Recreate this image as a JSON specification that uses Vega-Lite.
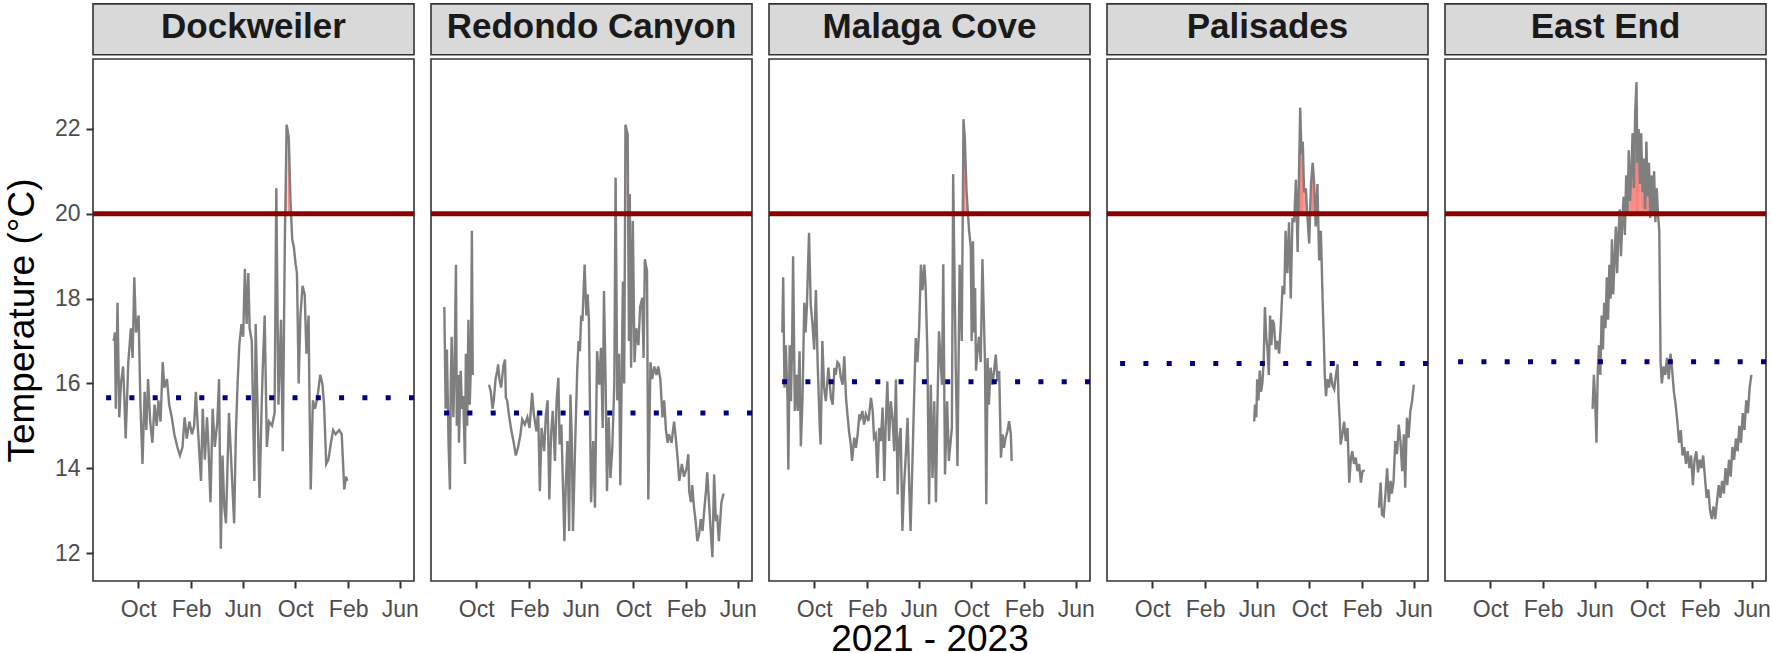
{
  "$schema": "https://vega.github.io/schema/vega-lite/v6.json",
  "padding": {"left": 3, "top": 2, "right": 5, "bottom": 0},
  "background": "white",
  "datasets": {
    "temps": [
      {"s":"Dockweiler","d":"2021-08-05","t":17.0},{"s":"Dockweiler","d":"2021-08-08","t":17.2},{"s":"Dockweiler","d":"2021-08-10","t":15.4},{"s":"Dockweiler","d":"2021-08-14","t":17.9},{"s":"Dockweiler","d":"2021-08-18","t":15.2},{"s":"Dockweiler","d":"2021-08-22","t":16.0},{"s":"Dockweiler","d":"2021-08-27","t":16.4},{"s":"Dockweiler","d":"2021-08-30","t":15.6},{"s":"Dockweiler","d":"2021-09-02","t":14.7},{"s":"Dockweiler","d":"2021-09-08","t":16.5},{"s":"Dockweiler","d":"2021-09-14","t":17.3},{"s":"Dockweiler","d":"2021-09-18","t":16.6},{"s":"Dockweiler","d":"2021-09-22","t":18.5},{"s":"Dockweiler","d":"2021-09-26","t":17.2},{"s":"Dockweiler","d":"2021-10-02","t":17.6},{"s":"Dockweiler","d":"2021-10-06","t":15.6},{"s":"Dockweiler","d":"2021-10-11","t":14.1},{"s":"Dockweiler","d":"2021-10-16","t":15.8},{"s":"Dockweiler","d":"2021-10-20","t":14.9},{"s":"Dockweiler","d":"2021-10-24","t":16.1},{"s":"Dockweiler","d":"2021-10-29","t":15.1},{"s":"Dockweiler","d":"2021-11-03","t":14.6},{"s":"Dockweiler","d":"2021-11-08","t":15.5},{"s":"Dockweiler","d":"2021-11-13","t":15.0},{"s":"Dockweiler","d":"2021-11-17","t":15.6},{"s":"Dockweiler","d":"2021-11-22","t":15.1},{"s":"Dockweiler","d":"2021-11-27","t":16.5},{"s":"Dockweiler","d":"2021-12-01","t":15.9},{"s":"Dockweiler","d":"2021-12-07","t":16.1},{"s":"Dockweiler","d":"2021-12-12","t":15.5},{"s":"Dockweiler","d":"2021-12-18","t":15.2},{"s":"Dockweiler","d":"2021-12-24","t":14.8},{"s":"Dockweiler","d":"2021-12-31","t":14.5},{"s":"Dockweiler","d":"2022-01-06","t":14.3},{"s":"Dockweiler","d":"2022-01-12","t":14.5},{"s":"Dockweiler","d":"2022-01-17","t":15.2},{"s":"Dockweiler","d":"2022-01-22","t":14.7},{"s":"Dockweiler","d":"2022-01-28","t":15.1},{"s":"Dockweiler","d":"2022-02-03","t":14.8},{"s":"Dockweiler","d":"2022-02-08","t":15.0},{"s":"Dockweiler","d":"2022-02-12","t":15.8},{"s":"Dockweiler","d":"2022-02-17","t":14.9},{"s":"Dockweiler","d":"2022-02-24","t":13.7},{"s":"Dockweiler","d":"2022-02-28","t":15.4},{"s":"Dockweiler","d":"2022-03-05","t":14.2},{"s":"Dockweiler","d":"2022-03-10","t":15.2},{"s":"Dockweiler","d":"2022-03-13","t":14.6},{"s":"Dockweiler","d":"2022-03-18","t":13.2},{"s":"Dockweiler","d":"2022-03-23","t":15.4},{"s":"Dockweiler","d":"2022-03-28","t":14.5},{"s":"Dockweiler","d":"2022-04-03","t":15.1},{"s":"Dockweiler","d":"2022-04-07","t":16.1},{"s":"Dockweiler","d":"2022-04-11","t":12.1},{"s":"Dockweiler","d":"2022-04-15","t":14.3},{"s":"Dockweiler","d":"2022-04-19","t":13.1},{"s":"Dockweiler","d":"2022-04-23","t":12.7},{"s":"Dockweiler","d":"2022-04-27","t":14.2},{"s":"Dockweiler","d":"2022-04-30","t":15.3},{"s":"Dockweiler","d":"2022-05-06","t":14.0},{"s":"Dockweiler","d":"2022-05-12","t":12.7},{"s":"Dockweiler","d":"2022-05-16","t":14.8},{"s":"Dockweiler","d":"2022-05-20","t":16.0},{"s":"Dockweiler","d":"2022-05-24","t":16.9},{"s":"Dockweiler","d":"2022-05-29","t":17.4},{"s":"Dockweiler","d":"2022-06-02","t":17.1},{"s":"Dockweiler","d":"2022-06-06","t":18.7},{"s":"Dockweiler","d":"2022-06-10","t":17.4},{"s":"Dockweiler","d":"2022-06-14","t":18.6},{"s":"Dockweiler","d":"2022-06-17","t":17.3},{"s":"Dockweiler","d":"2022-06-22","t":17.0},{"s":"Dockweiler","d":"2022-06-28","t":13.7},{"s":"Dockweiler","d":"2022-07-01","t":17.4},{"s":"Dockweiler","d":"2022-07-05","t":15.6},{"s":"Dockweiler","d":"2022-07-10","t":13.3},{"s":"Dockweiler","d":"2022-07-15","t":15.5},{"s":"Dockweiler","d":"2022-07-18","t":16.5},{"s":"Dockweiler","d":"2022-07-22","t":17.6},{"s":"Dockweiler","d":"2022-07-27","t":14.5},{"s":"Dockweiler","d":"2022-08-01","t":15.1},{"s":"Dockweiler","d":"2022-08-08","t":15.0},{"s":"Dockweiler","d":"2022-08-14","t":15.3},{"s":"Dockweiler","d":"2022-08-18","t":20.6},{"s":"Dockweiler","d":"2022-08-23","t":15.5},{"s":"Dockweiler","d":"2022-08-29","t":17.5},{"s":"Dockweiler","d":"2022-09-02","t":14.4},{"s":"Dockweiler","d":"2022-09-07","t":19.5},{"s":"Dockweiler","d":"2022-09-11","t":22.1},{"s":"Dockweiler","d":"2022-09-16","t":21.8},{"s":"Dockweiler","d":"2022-09-20","t":20.3},{"s":"Dockweiler","d":"2022-09-24","t":19.4},{"s":"Dockweiler","d":"2022-09-28","t":19.2},{"s":"Dockweiler","d":"2022-10-02","t":18.8},{"s":"Dockweiler","d":"2022-10-05","t":18.6},{"s":"Dockweiler","d":"2022-10-09","t":16.0},{"s":"Dockweiler","d":"2022-10-13","t":17.6},{"s":"Dockweiler","d":"2022-10-18","t":18.3},{"s":"Dockweiler","d":"2022-10-23","t":18.1},{"s":"Dockweiler","d":"2022-10-27","t":16.7},{"s":"Dockweiler","d":"2022-11-01","t":17.6},{"s":"Dockweiler","d":"2022-11-03","t":15.7},{"s":"Dockweiler","d":"2022-11-06","t":13.5},{"s":"Dockweiler","d":"2022-11-11","t":15.6},{"s":"Dockweiler","d":"2022-11-16","t":15.4},{"s":"Dockweiler","d":"2022-11-22","t":15.7},{"s":"Dockweiler","d":"2022-11-28","t":16.2},{"s":"Dockweiler","d":"2022-12-03","t":16.0},{"s":"Dockweiler","d":"2022-12-07","t":15.5},{"s":"Dockweiler","d":"2022-12-12","t":14.1},{"s":"Dockweiler","d":"2022-12-17","t":14.2},{"s":"Dockweiler","d":"2022-12-23","t":14.6},{"s":"Dockweiler","d":"2022-12-28","t":14.9},{"s":"Dockweiler","d":"2023-01-03","t":14.8},{"s":"Dockweiler","d":"2023-01-11","t":14.9},{"s":"Dockweiler","d":"2023-01-17","t":14.8},{"s":"Dockweiler","d":"2023-01-23","t":13.5},{"s":"Dockweiler","d":"2023-01-27","t":13.8},{"s":"Dockweiler","d":"2023-01-30","t":13.7},
      {"s":"Redondo Canyon","d":"2021-07-19","t":17.8},{"s":"Redondo Canyon","d":"2021-07-22","t":15.4},{"s":"Redondo Canyon","d":"2021-07-25","t":16.8},{"s":"Redondo Canyon","d":"2021-07-29","t":14.5},{"s":"Redondo Canyon","d":"2021-08-01","t":13.5},{"s":"Redondo Canyon","d":"2021-08-03","t":16.0},{"s":"Redondo Canyon","d":"2021-08-05","t":17.1},{"s":"Redondo Canyon","d":"2021-08-09","t":15.2},{"s":"Redondo Canyon","d":"2021-08-12","t":16.5},{"s":"Redondo Canyon","d":"2021-08-15","t":18.8},{"s":"Redondo Canyon","d":"2021-08-17","t":15.0},{"s":"Redondo Canyon","d":"2021-08-20","t":16.2},{"s":"Redondo Canyon","d":"2021-08-22","t":14.6},{"s":"Redondo Canyon","d":"2021-08-26","t":16.3},{"s":"Redondo Canyon","d":"2021-08-29","t":15.4},{"s":"Redondo Canyon","d":"2021-09-01","t":15.7},{"s":"Redondo Canyon","d":"2021-09-05","t":14.1},{"s":"Redondo Canyon","d":"2021-09-07","t":16.7},{"s":"Redondo Canyon","d":"2021-09-10","t":15.0},{"s":"Redondo Canyon","d":"2021-09-13","t":17.5},{"s":"Redondo Canyon","d":"2021-09-16","t":15.5},{"s":"Redondo Canyon","d":"2021-09-19","t":16.5},{"s":"Redondo Canyon","d":"2021-09-21","t":19.6},{"s":"Redondo Canyon","d":"2021-09-23","t":16.2},{"s":"Redondo Canyon","d":"2021-10-10","t":null},
      {"s":"Redondo Canyon","d":"2021-10-31","t":15.97},{"s":"Redondo Canyon","d":"2021-11-04","t":15.8},{"s":"Redondo Canyon","d":"2021-11-08","t":15.4},{"s":"Redondo Canyon","d":"2021-11-11","t":15.6},{"s":"Redondo Canyon","d":"2021-11-15","t":16.1},{"s":"Redondo Canyon","d":"2021-11-19","t":16.3},{"s":"Redondo Canyon","d":"2021-11-21","t":16.45},{"s":"Redondo Canyon","d":"2021-11-24","t":16.1},{"s":"Redondo Canyon","d":"2021-11-28","t":15.9},{"s":"Redondo Canyon","d":"2021-12-03","t":16.4},{"s":"Redondo Canyon","d":"2021-12-07","t":16.56},{"s":"Redondo Canyon","d":"2021-12-09","t":15.66},{"s":"Redondo Canyon","d":"2021-12-12","t":15.6},{"s":"Redondo Canyon","d":"2021-12-16","t":15.27},{"s":"Redondo Canyon","d":"2021-12-22","t":14.87},{"s":"Redondo Canyon","d":"2021-12-28","t":14.56},{"s":"Redondo Canyon","d":"2022-01-01","t":14.3},{"s":"Redondo Canyon","d":"2022-01-06","t":14.48},{"s":"Redondo Canyon","d":"2022-01-12","t":14.8},{"s":"Redondo Canyon","d":"2022-01-16","t":15.15},{"s":"Redondo Canyon","d":"2022-01-22","t":15.03},{"s":"Redondo Canyon","d":"2022-01-28","t":15.2},{"s":"Redondo Canyon","d":"2022-02-02","t":14.95},{"s":"Redondo Canyon","d":"2022-02-08","t":15.78},{"s":"Redondo Canyon","d":"2022-02-12","t":15.27},{"s":"Redondo Canyon","d":"2022-02-18","t":14.87},{"s":"Redondo Canyon","d":"2022-02-22","t":15.35},{"s":"Redondo Canyon","d":"2022-02-26","t":13.46},{"s":"Redondo Canyon","d":"2022-03-02","t":14.95},{"s":"Redondo Canyon","d":"2022-03-08","t":14.4},{"s":"Redondo Canyon","d":"2022-03-12","t":15.27},{"s":"Redondo Canyon","d":"2022-03-16","t":15.6},{"s":"Redondo Canyon","d":"2022-03-20","t":13.26},{"s":"Redondo Canyon","d":"2022-03-24","t":14.8},{"s":"Redondo Canyon","d":"2022-03-28","t":15.35},{"s":"Redondo Canyon","d":"2022-04-02","t":14.17},{"s":"Redondo Canyon","d":"2022-04-06","t":15.6},{"s":"Redondo Canyon","d":"2022-04-10","t":16.13},{"s":"Redondo Canyon","d":"2022-04-13","t":14.56},{"s":"Redondo Canyon","d":"2022-04-17","t":15.03},{"s":"Redondo Canyon","d":"2022-04-21","t":13.46},{"s":"Redondo Canyon","d":"2022-04-24","t":12.28},{"s":"Redondo Canyon","d":"2022-04-27","t":13.54},{"s":"Redondo Canyon","d":"2022-05-01","t":14.64},{"s":"Redondo Canyon","d":"2022-05-05","t":12.52},{"s":"Redondo Canyon","d":"2022-05-08","t":15.74},{"s":"Redondo Canyon","d":"2022-05-11","t":14.8},{"s":"Redondo Canyon","d":"2022-05-14","t":12.52},{"s":"Redondo Canyon","d":"2022-05-19","t":14.56},{"s":"Redondo Canyon","d":"2022-05-24","t":16.37},{"s":"Redondo Canyon","d":"2022-05-27","t":17.0},{"s":"Redondo Canyon","d":"2022-05-30","t":16.76},{"s":"Redondo Canyon","d":"2022-06-02","t":17.6},{"s":"Redondo Canyon","d":"2022-06-05","t":17.47},{"s":"Redondo Canyon","d":"2022-06-10","t":18.8},{"s":"Redondo Canyon","d":"2022-06-14","t":17.6},{"s":"Redondo Canyon","d":"2022-06-17","t":18.1},{"s":"Redondo Canyon","d":"2022-06-20","t":17.5},{"s":"Redondo Canyon","d":"2022-06-25","t":13.2},{"s":"Redondo Canyon","d":"2022-06-30","t":14.64},{"s":"Redondo Canyon","d":"2022-07-04","t":13.07},{"s":"Redondo Canyon","d":"2022-07-09","t":16.76},{"s":"Redondo Canyon","d":"2022-07-14","t":15.97},{"s":"Redondo Canyon","d":"2022-07-18","t":16.84},{"s":"Redondo Canyon","d":"2022-07-22","t":14.95},{"s":"Redondo Canyon","d":"2022-07-25","t":18.18},{"s":"Redondo Canyon","d":"2022-07-29","t":15.9},{"s":"Redondo Canyon","d":"2022-08-01","t":13.46},{"s":"Redondo Canyon","d":"2022-08-05","t":15.2},{"s":"Redondo Canyon","d":"2022-08-09","t":13.77},{"s":"Redondo Canyon","d":"2022-08-13","t":14.4},{"s":"Redondo Canyon","d":"2022-08-18","t":15.97},{"s":"Redondo Canyon","d":"2022-08-21","t":20.85},{"s":"Redondo Canyon","d":"2022-08-25","t":15.6},{"s":"Redondo Canyon","d":"2022-08-29","t":16.7},{"s":"Redondo Canyon","d":"2022-09-01","t":13.6},{"s":"Redondo Canyon","d":"2022-09-07","t":18.4},{"s":"Redondo Canyon","d":"2022-09-10","t":16.0},{"s":"Redondo Canyon","d":"2022-09-13","t":22.1},{"s":"Redondo Canyon","d":"2022-09-18","t":21.87},{"s":"Redondo Canyon","d":"2022-09-21","t":17.0},{"s":"Redondo Canyon","d":"2022-09-23","t":20.46},{"s":"Redondo Canyon","d":"2022-09-26","t":16.37},{"s":"Redondo Canyon","d":"2022-09-30","t":19.83},{"s":"Redondo Canyon","d":"2022-10-04","t":16.5},{"s":"Redondo Canyon","d":"2022-10-08","t":17.3},{"s":"Redondo Canyon","d":"2022-10-13","t":16.9},{"s":"Redondo Canyon","d":"2022-10-17","t":17.8},{"s":"Redondo Canyon","d":"2022-10-22","t":18.02},{"s":"Redondo Canyon","d":"2022-10-25","t":16.6},{"s":"Redondo Canyon","d":"2022-10-28","t":18.93},{"s":"Redondo Canyon","d":"2022-11-02","t":18.65},{"s":"Redondo Canyon","d":"2022-11-05","t":13.26},{"s":"Redondo Canyon","d":"2022-11-10","t":16.5},{"s":"Redondo Canyon","d":"2022-11-14","t":16.1},{"s":"Redondo Canyon","d":"2022-11-19","t":16.4},{"s":"Redondo Canyon","d":"2022-11-24","t":16.2},{"s":"Redondo Canyon","d":"2022-11-28","t":16.4},{"s":"Redondo Canyon","d":"2022-12-03","t":16.1},{"s":"Redondo Canyon","d":"2022-12-08","t":15.2},{"s":"Redondo Canyon","d":"2022-12-12","t":15.6},{"s":"Redondo Canyon","d":"2022-12-16","t":14.9},{"s":"Redondo Canyon","d":"2022-12-20","t":14.6},{"s":"Redondo Canyon","d":"2022-12-23","t":14.8},{"s":"Redondo Canyon","d":"2022-12-29","t":14.6},{"s":"Redondo Canyon","d":"2023-01-04","t":15.1},{"s":"Redondo Canyon","d":"2023-01-08","t":14.7},{"s":"Redondo Canyon","d":"2023-01-12","t":14.25},{"s":"Redondo Canyon","d":"2023-01-16","t":13.7},{"s":"Redondo Canyon","d":"2023-01-22","t":14.1},{"s":"Redondo Canyon","d":"2023-01-27","t":13.8},{"s":"Redondo Canyon","d":"2023-02-02","t":14.0},{"s":"Redondo Canyon","d":"2023-02-06","t":14.33},{"s":"Redondo Canyon","d":"2023-02-08","t":13.46},{"s":"Redondo Canyon","d":"2023-02-12","t":13.2},{"s":"Redondo Canyon","d":"2023-02-15","t":13.6},{"s":"Redondo Canyon","d":"2023-02-19","t":13.1},{"s":"Redondo Canyon","d":"2023-02-23","t":12.75},{"s":"Redondo Canyon","d":"2023-02-27","t":12.28},{"s":"Redondo Canyon","d":"2023-03-03","t":12.44},{"s":"Redondo Canyon","d":"2023-03-07","t":12.8},{"s":"Redondo Canyon","d":"2023-03-11","t":12.52},{"s":"Redondo Canyon","d":"2023-03-15","t":13.0},{"s":"Redondo Canyon","d":"2023-03-19","t":13.46},{"s":"Redondo Canyon","d":"2023-03-22","t":13.9},{"s":"Redondo Canyon","d":"2023-03-26","t":13.2},{"s":"Redondo Canyon","d":"2023-03-30","t":12.52},{"s":"Redondo Canyon","d":"2023-04-03","t":11.9},{"s":"Redondo Canyon","d":"2023-04-07","t":13.85},{"s":"Redondo Canyon","d":"2023-04-11","t":12.75},{"s":"Redondo Canyon","d":"2023-04-14","t":12.9},{"s":"Redondo Canyon","d":"2023-04-18","t":12.28},{"s":"Redondo Canyon","d":"2023-04-24","t":13.2},{"s":"Redondo Canyon","d":"2023-04-29","t":13.4},
      {"s":"Malaga Cove","d":"2021-07-19","t":17.2},{"s":"Malaga Cove","d":"2021-07-21","t":18.5},{"s":"Malaga Cove","d":"2021-07-24","t":15.9},{"s":"Malaga Cove","d":"2021-07-27","t":16.9},{"s":"Malaga Cove","d":"2021-07-31","t":15.66},{"s":"Malaga Cove","d":"2021-08-02","t":13.97},{"s":"Malaga Cove","d":"2021-08-05","t":16.9},{"s":"Malaga Cove","d":"2021-08-08","t":15.58},{"s":"Malaga Cove","d":"2021-08-11","t":17.15},{"s":"Malaga Cove","d":"2021-08-13","t":19.0},{"s":"Malaga Cove","d":"2021-08-17","t":15.35},{"s":"Malaga Cove","d":"2021-08-21","t":16.2},{"s":"Malaga Cove","d":"2021-08-24","t":15.35},{"s":"Malaga Cove","d":"2021-08-28","t":16.76},{"s":"Malaga Cove","d":"2021-08-31","t":14.52},{"s":"Malaga Cove","d":"2021-09-04","t":15.7},{"s":"Malaga Cove","d":"2021-09-08","t":17.9},{"s":"Malaga Cove","d":"2021-09-11","t":17.2},{"s":"Malaga Cove","d":"2021-09-14","t":17.8},{"s":"Malaga Cove","d":"2021-09-19","t":19.55},{"s":"Malaga Cove","d":"2021-09-23","t":17.86},{"s":"Malaga Cove","d":"2021-09-27","t":17.4},{"s":"Malaga Cove","d":"2021-10-01","t":16.8},{"s":"Malaga Cove","d":"2021-10-05","t":18.2},{"s":"Malaga Cove","d":"2021-10-09","t":16.5},{"s":"Malaga Cove","d":"2021-10-14","t":14.95},{"s":"Malaga Cove","d":"2021-10-16","t":14.56},{"s":"Malaga Cove","d":"2021-10-20","t":17.0},{"s":"Malaga Cove","d":"2021-10-24","t":15.9},{"s":"Malaga Cove","d":"2021-10-28","t":15.58},{"s":"Malaga Cove","d":"2021-11-03","t":16.37},{"s":"Malaga Cove","d":"2021-11-09","t":15.66},{"s":"Malaga Cove","d":"2021-11-13","t":15.5},{"s":"Malaga Cove","d":"2021-11-17","t":16.37},{"s":"Malaga Cove","d":"2021-11-20","t":16.2},{"s":"Malaga Cove","d":"2021-11-24","t":16.5},{"s":"Malaga Cove","d":"2021-11-28","t":16.45},{"s":"Malaga Cove","d":"2021-12-02","t":16.13},{"s":"Malaga Cove","d":"2021-12-06","t":15.97},{"s":"Malaga Cove","d":"2021-12-10","t":16.64},{"s":"Malaga Cove","d":"2021-12-14","t":15.66},{"s":"Malaga Cove","d":"2021-12-18","t":15.19},{"s":"Malaga Cove","d":"2021-12-21","t":14.87},{"s":"Malaga Cove","d":"2021-12-25","t":14.56},{"s":"Malaga Cove","d":"2021-12-28","t":14.17},{"s":"Malaga Cove","d":"2022-01-02","t":14.72},{"s":"Malaga Cove","d":"2022-01-06","t":14.48},{"s":"Malaga Cove","d":"2022-01-10","t":14.8},{"s":"Malaga Cove","d":"2022-01-14","t":15.27},{"s":"Malaga Cove","d":"2022-01-17","t":15.19},{"s":"Malaga Cove","d":"2022-01-21","t":15.35},{"s":"Malaga Cove","d":"2022-01-25","t":15.03},{"s":"Malaga Cove","d":"2022-01-29","t":15.27},{"s":"Malaga Cove","d":"2022-02-04","t":15.11},{"s":"Malaga Cove","d":"2022-02-10","t":15.66},{"s":"Malaga Cove","d":"2022-02-14","t":15.35},{"s":"Malaga Cove","d":"2022-02-17","t":14.72},{"s":"Malaga Cove","d":"2022-02-21","t":14.8},{"s":"Malaga Cove","d":"2022-02-25","t":13.77},{"s":"Malaga Cove","d":"2022-03-01","t":14.95},{"s":"Malaga Cove","d":"2022-03-05","t":14.64},{"s":"Malaga Cove","d":"2022-03-09","t":15.43},{"s":"Malaga Cove","d":"2022-03-13","t":13.7},{"s":"Malaga Cove","d":"2022-03-16","t":14.95},{"s":"Malaga Cove","d":"2022-03-20","t":16.05},{"s":"Malaga Cove","d":"2022-03-24","t":14.64},{"s":"Malaga Cove","d":"2022-03-28","t":15.58},{"s":"Malaga Cove","d":"2022-04-01","t":15.19},{"s":"Malaga Cove","d":"2022-04-05","t":14.4},{"s":"Malaga Cove","d":"2022-04-09","t":16.09},{"s":"Malaga Cove","d":"2022-04-13","t":13.38},{"s":"Malaga Cove","d":"2022-04-16","t":14.64},{"s":"Malaga Cove","d":"2022-04-20","t":14.95},{"s":"Malaga Cove","d":"2022-04-24","t":12.52},{"s":"Malaga Cove","d":"2022-04-28","t":13.6},{"s":"Malaga Cove","d":"2022-05-02","t":14.33},{"s":"Malaga Cove","d":"2022-05-06","t":15.19},{"s":"Malaga Cove","d":"2022-05-10","t":13.54},{"s":"Malaga Cove","d":"2022-05-13","t":12.52},{"s":"Malaga Cove","d":"2022-05-17","t":14.0},{"s":"Malaga Cove","d":"2022-05-21","t":15.58},{"s":"Malaga Cove","d":"2022-05-25","t":17.07},{"s":"Malaga Cove","d":"2022-05-29","t":16.5},{"s":"Malaga Cove","d":"2022-06-02","t":17.3},{"s":"Malaga Cove","d":"2022-06-06","t":18.8},{"s":"Malaga Cove","d":"2022-06-10","t":18.2},{"s":"Malaga Cove","d":"2022-06-14","t":18.8},{"s":"Malaga Cove","d":"2022-06-17","t":18.3},{"s":"Malaga Cove","d":"2022-06-21","t":16.76},{"s":"Malaga Cove","d":"2022-06-25","t":13.15},{"s":"Malaga Cove","d":"2022-06-29","t":15.97},{"s":"Malaga Cove","d":"2022-07-03","t":13.77},{"s":"Malaga Cove","d":"2022-07-07","t":15.58},{"s":"Malaga Cove","d":"2022-07-11","t":13.2},{"s":"Malaga Cove","d":"2022-07-14","t":15.19},{"s":"Malaga Cove","d":"2022-07-18","t":17.23},{"s":"Malaga Cove","d":"2022-07-25","t":15.97},{"s":"Malaga Cove","d":"2022-07-28","t":18.81},{"s":"Malaga Cove","d":"2022-08-01","t":13.85},{"s":"Malaga Cove","d":"2022-08-06","t":15.58},{"s":"Malaga Cove","d":"2022-08-10","t":14.17},{"s":"Malaga Cove","d":"2022-08-17","t":14.95},{"s":"Malaga Cove","d":"2022-08-20","t":20.93},{"s":"Malaga Cove","d":"2022-08-26","t":16.37},{"s":"Malaga Cove","d":"2022-08-30","t":14.05},{"s":"Malaga Cove","d":"2022-09-04","t":18.8},{"s":"Malaga Cove","d":"2022-09-09","t":17.0},{"s":"Malaga Cove","d":"2022-09-13","t":22.23},{"s":"Malaga Cove","d":"2022-09-16","t":21.8},{"s":"Malaga Cove","d":"2022-09-20","t":20.54},{"s":"Malaga Cove","d":"2022-09-26","t":19.6},{"s":"Malaga Cove","d":"2022-09-30","t":19.2},{"s":"Malaga Cove","d":"2022-10-02","t":17.0},{"s":"Malaga Cove","d":"2022-10-05","t":19.35},{"s":"Malaga Cove","d":"2022-10-08","t":17.2},{"s":"Malaga Cove","d":"2022-10-10","t":18.25},{"s":"Malaga Cove","d":"2022-10-12","t":16.3},{"s":"Malaga Cove","d":"2022-10-15","t":16.7},{"s":"Malaga Cove","d":"2022-10-19","t":17.1},{"s":"Malaga Cove","d":"2022-10-23","t":16.5},{"s":"Malaga Cove","d":"2022-10-27","t":18.93},{"s":"Malaga Cove","d":"2022-11-02","t":16.45},{"s":"Malaga Cove","d":"2022-11-05","t":13.15},{"s":"Malaga Cove","d":"2022-11-08","t":16.6},{"s":"Malaga Cove","d":"2022-11-11","t":15.5},{"s":"Malaga Cove","d":"2022-11-15","t":16.37},{"s":"Malaga Cove","d":"2022-11-19","t":15.97},{"s":"Malaga Cove","d":"2022-11-23","t":16.29},{"s":"Malaga Cove","d":"2022-11-27","t":16.68},{"s":"Malaga Cove","d":"2022-12-01","t":16.05},{"s":"Malaga Cove","d":"2022-12-05","t":16.29},{"s":"Malaga Cove","d":"2022-12-09","t":14.25},{"s":"Malaga Cove","d":"2022-12-13","t":14.8},{"s":"Malaga Cove","d":"2022-12-16","t":14.48},{"s":"Malaga Cove","d":"2022-12-20","t":14.72},{"s":"Malaga Cove","d":"2022-12-24","t":14.87},{"s":"Malaga Cove","d":"2022-12-28","t":15.11},{"s":"Malaga Cove","d":"2023-01-01","t":14.8},{"s":"Malaga Cove","d":"2023-01-03","t":14.17},
      {"s":"Palisades","d":"2022-05-26","t":15.1},{"s":"Palisades","d":"2022-05-28","t":15.5},{"s":"Palisades","d":"2022-05-31","t":15.2},{"s":"Palisades","d":"2022-06-02","t":16.1},{"s":"Palisades","d":"2022-06-05","t":15.6},{"s":"Palisades","d":"2022-06-08","t":16.3},{"s":"Palisades","d":"2022-06-11","t":15.8},{"s":"Palisades","d":"2022-06-14","t":16.0},{"s":"Palisades","d":"2022-06-17","t":16.5},{"s":"Palisades","d":"2022-06-20","t":17.8},{"s":"Palisades","d":"2022-06-23","t":17.1},{"s":"Palisades","d":"2022-06-26","t":16.8},{"s":"Palisades","d":"2022-06-29","t":16.2},{"s":"Palisades","d":"2022-07-02","t":17.6},{"s":"Palisades","d":"2022-07-05","t":16.9},{"s":"Palisades","d":"2022-07-08","t":17.5},{"s":"Palisades","d":"2022-07-11","t":17.4},{"s":"Palisades","d":"2022-07-15","t":16.8},{"s":"Palisades","d":"2022-07-19","t":17.0},{"s":"Palisades","d":"2022-07-23","t":16.7},{"s":"Palisades","d":"2022-07-27","t":17.4},{"s":"Palisades","d":"2022-07-31","t":18.3},{"s":"Palisades","d":"2022-08-04","t":18.1},{"s":"Palisades","d":"2022-08-07","t":19.6},{"s":"Palisades","d":"2022-08-11","t":18.6},{"s":"Palisades","d":"2022-08-15","t":19.8},{"s":"Palisades","d":"2022-08-19","t":18.0},{"s":"Palisades","d":"2022-08-23","t":19.9},{"s":"Palisades","d":"2022-08-27","t":19.8},{"s":"Palisades","d":"2022-08-31","t":20.8},{"s":"Palisades","d":"2022-09-04","t":19.1},{"s":"Palisades","d":"2022-09-08","t":21.4},{"s":"Palisades","d":"2022-09-10","t":22.5},{"s":"Palisades","d":"2022-09-13","t":21.4},{"s":"Palisades","d":"2022-09-16","t":21.7},{"s":"Palisades","d":"2022-09-19","t":20.5},{"s":"Palisades","d":"2022-09-23","t":20.6},{"s":"Palisades","d":"2022-09-27","t":19.9},{"s":"Palisades","d":"2022-10-01","t":19.3},{"s":"Palisades","d":"2022-10-05","t":20.7},{"s":"Palisades","d":"2022-10-09","t":21.2},{"s":"Palisades","d":"2022-10-12","t":20.8},{"s":"Palisades","d":"2022-10-16","t":19.7},{"s":"Palisades","d":"2022-10-20","t":20.7},{"s":"Palisades","d":"2022-10-24","t":18.9},{"s":"Palisades","d":"2022-10-28","t":19.6},{"s":"Palisades","d":"2022-11-01","t":18.0},{"s":"Palisades","d":"2022-11-04","t":17.0},{"s":"Palisades","d":"2022-11-06","t":16.2},{"s":"Palisades","d":"2022-11-09","t":15.7},{"s":"Palisades","d":"2022-11-12","t":16.1},{"s":"Palisades","d":"2022-11-16","t":15.9},{"s":"Palisades","d":"2022-11-20","t":16.25},{"s":"Palisades","d":"2022-11-24","t":15.95},{"s":"Palisades","d":"2022-11-28","t":15.86},{"s":"Palisades","d":"2022-12-02","t":16.2},{"s":"Palisades","d":"2022-12-06","t":16.45},{"s":"Palisades","d":"2022-12-08","t":15.66},{"s":"Palisades","d":"2022-12-11","t":15.11},{"s":"Palisades","d":"2022-12-13","t":14.56},{"s":"Palisades","d":"2022-12-17","t":14.8},{"s":"Palisades","d":"2022-12-21","t":15.1},{"s":"Palisades","d":"2022-12-25","t":14.64},{"s":"Palisades","d":"2022-12-29","t":14.95},{"s":"Palisades","d":"2023-01-02","t":13.66},{"s":"Palisades","d":"2023-01-06","t":14.25},{"s":"Palisades","d":"2023-01-09","t":14.4},{"s":"Palisades","d":"2023-01-13","t":14.1},{"s":"Palisades","d":"2023-01-17","t":14.25},{"s":"Palisades","d":"2023-01-21","t":13.93},{"s":"Palisades","d":"2023-01-25","t":14.1},{"s":"Palisades","d":"2023-01-29","t":13.66},{"s":"Palisades","d":"2023-02-02","t":13.93},{"s":"Palisades","d":"2023-02-07","t":13.95},{"s":"Palisades","d":"2023-02-25","t":null},{"s":"Palisades","d":"2023-03-12","t":13.07},{"s":"Palisades","d":"2023-03-16","t":13.66},{"s":"Palisades","d":"2023-03-19","t":12.91},{"s":"Palisades","d":"2023-03-23","t":12.87},{"s":"Palisades","d":"2023-03-27","t":13.38},{"s":"Palisades","d":"2023-03-31","t":14.0},{"s":"Palisades","d":"2023-04-04","t":13.2},{"s":"Palisades","d":"2023-04-08","t":13.7},{"s":"Palisades","d":"2023-04-11","t":13.4},{"s":"Palisades","d":"2023-04-15","t":13.7},{"s":"Palisades","d":"2023-04-19","t":14.64},{"s":"Palisades","d":"2023-04-23","t":14.33},{"s":"Palisades","d":"2023-04-27","t":15.03},{"s":"Palisades","d":"2023-05-01","t":14.64},{"s":"Palisades","d":"2023-05-05","t":13.93},{"s":"Palisades","d":"2023-05-09","t":14.8},{"s":"Palisades","d":"2023-05-12","t":13.54},{"s":"Palisades","d":"2023-05-16","t":15.19},{"s":"Palisades","d":"2023-05-20","t":14.72},{"s":"Palisades","d":"2023-05-24","t":15.35},{"s":"Palisades","d":"2023-05-28","t":15.58},{"s":"Palisades","d":"2023-06-01","t":15.97},
      {"s":"East End","d":"2022-05-27","t":15.4},{"s":"East End","d":"2022-05-30","t":16.2},{"s":"East End","d":"2022-06-02","t":15.6},{"s":"East End","d":"2022-06-05","t":14.6},{"s":"East End","d":"2022-06-08","t":16.3},{"s":"East End","d":"2022-06-11","t":16.9},{"s":"East End","d":"2022-06-14","t":16.2},{"s":"East End","d":"2022-06-17","t":17.6},{"s":"East End","d":"2022-06-20","t":16.8},{"s":"East End","d":"2022-06-23","t":17.9},{"s":"East End","d":"2022-06-26","t":17.3},{"s":"East End","d":"2022-06-29","t":18.5},{"s":"East End","d":"2022-07-02","t":17.5},{"s":"East End","d":"2022-07-05","t":18.8},{"s":"East End","d":"2022-07-08","t":18.0},{"s":"East End","d":"2022-07-11","t":19.4},{"s":"East End","d":"2022-07-14","t":18.1},{"s":"East End","d":"2022-07-17","t":18.9},{"s":"East End","d":"2022-07-20","t":19.7},{"s":"East End","d":"2022-07-23","t":18.6},{"s":"East End","d":"2022-07-26","t":19.5},{"s":"East End","d":"2022-07-29","t":20.1},{"s":"East End","d":"2022-08-01","t":19.0},{"s":"East End","d":"2022-08-04","t":19.8},{"s":"East End","d":"2022-08-07","t":20.4},{"s":"East End","d":"2022-08-10","t":19.5},{"s":"East End","d":"2022-08-13","t":20.9},{"s":"East End","d":"2022-08-16","t":20.0},{"s":"East End","d":"2022-08-19","t":21.5},{"s":"East End","d":"2022-08-22","t":20.3},{"s":"East End","d":"2022-08-25","t":21.0},{"s":"East End","d":"2022-08-28","t":21.9},{"s":"East End","d":"2022-08-31","t":20.6},{"s":"East End","d":"2022-09-03","t":22.4},{"s":"East End","d":"2022-09-06","t":23.1},{"s":"East End","d":"2022-09-08","t":21.2},{"s":"East End","d":"2022-09-11","t":22.0},{"s":"East End","d":"2022-09-14","t":20.7},{"s":"East End","d":"2022-09-17","t":21.9},{"s":"East End","d":"2022-09-20","t":20.5},{"s":"East End","d":"2022-09-23","t":21.3},{"s":"East End","d":"2022-09-26","t":20.1},{"s":"East End","d":"2022-09-29","t":21.7},{"s":"East End","d":"2022-10-02","t":20.4},{"s":"East End","d":"2022-10-05","t":21.2},{"s":"East End","d":"2022-10-08","t":19.9},{"s":"East End","d":"2022-10-11","t":20.9},{"s":"East End","d":"2022-10-14","t":20.0},{"s":"East End","d":"2022-10-17","t":21.0},{"s":"East End","d":"2022-10-20","t":19.8},{"s":"East End","d":"2022-10-23","t":20.6},{"s":"East End","d":"2022-10-26","t":20.0},{"s":"East End","d":"2022-10-29","t":19.6},{"s":"East End","d":"2022-11-01","t":16.5},{"s":"East End","d":"2022-11-04","t":16.0},{"s":"East End","d":"2022-11-08","t":16.4},{"s":"East End","d":"2022-11-12","t":16.2},{"s":"East End","d":"2022-11-16","t":16.6},{"s":"East End","d":"2022-11-20","t":16.1},{"s":"East End","d":"2022-11-24","t":16.7},{"s":"East End","d":"2022-11-28","t":16.3},{"s":"East End","d":"2022-12-02","t":15.8},{"s":"East End","d":"2022-12-06","t":15.5},{"s":"East End","d":"2022-12-10","t":15.1},{"s":"East End","d":"2022-12-14","t":14.6},{"s":"East End","d":"2022-12-18","t":14.9},{"s":"East End","d":"2022-12-22","t":14.3},{"s":"East End","d":"2022-12-26","t":14.5},{"s":"East End","d":"2022-12-30","t":14.1},{"s":"East End","d":"2023-01-03","t":14.4},{"s":"East End","d":"2023-01-07","t":14.0},{"s":"East End","d":"2023-01-11","t":14.3},{"s":"East End","d":"2023-01-15","t":13.6},{"s":"East End","d":"2023-01-19","t":14.2},{"s":"East End","d":"2023-01-23","t":14.4},{"s":"East End","d":"2023-01-27","t":13.9},{"s":"East End","d":"2023-01-31","t":14.2},{"s":"East End","d":"2023-02-04","t":14.0},{"s":"East End","d":"2023-02-08","t":14.3},{"s":"East End","d":"2023-02-12","t":13.8},{"s":"East End","d":"2023-02-16","t":13.3},{"s":"East End","d":"2023-02-20","t":13.5},{"s":"East End","d":"2023-02-24","t":13.0},{"s":"East End","d":"2023-02-28","t":12.8},{"s":"East End","d":"2023-03-04","t":13.1},{"s":"East End","d":"2023-03-08","t":12.8},{"s":"East End","d":"2023-03-12","t":13.2},{"s":"East End","d":"2023-03-16","t":13.6},{"s":"East End","d":"2023-03-20","t":13.3},{"s":"East End","d":"2023-03-24","t":13.7},{"s":"East End","d":"2023-03-28","t":13.4},{"s":"East End","d":"2023-04-01","t":14.0},{"s":"East End","d":"2023-04-05","t":13.6},{"s":"East End","d":"2023-04-09","t":14.2},{"s":"East End","d":"2023-04-13","t":13.8},{"s":"East End","d":"2023-04-17","t":14.5},{"s":"East End","d":"2023-04-21","t":14.2},{"s":"East End","d":"2023-04-25","t":14.7},{"s":"East End","d":"2023-04-29","t":14.4},{"s":"East End","d":"2023-05-03","t":15.0},{"s":"East End","d":"2023-05-07","t":14.6},{"s":"East End","d":"2023-05-11","t":15.3},{"s":"East End","d":"2023-05-15","t":14.9},{"s":"East End","d":"2023-05-19","t":15.6},{"s":"East End","d":"2023-05-23","t":15.3},{"s":"East End","d":"2023-05-27","t":15.9},{"s":"East End","d":"2023-05-31","t":16.2},
      {"s":"Dockweiler","m":15.66},{"s":"Redondo Canyon","m":15.30},{"s":"Malaga Cove","m":16.04},{"s":"Palisades","m":16.47},{"s":"East End","m":16.51}
    ]
  },
  "data": {"name": "temps"},
  "facet": {
    "column": {
      "field": "s", "type": "nominal",
      "sort": ["Dockweiler", "Redondo Canyon", "Malaga Cove", "Palisades", "East End"],
      "title": "2021 - 2023",
      "header": {"labels": false, "titleOrient": "bottom", "titleFontSize": 37, "titleFontWeight": "normal", "titleColor": "#000000", "titleFont": "Liberation Sans", "titlePadding": -9}
    }
  },
  "spacing": 17,
  "bounds": "flush",
  "spec": {
    "width": 321,
    "height": 522,
    "layer": [
      {
        "transform": [{"filter": "datum.t > 20"}],
        "mark": {"type": "rule", "color": "#F8766D", "strokeWidth": 1.5, "opacity": 0.85},
        "encoding": {
          "x": {"field": "d", "type": "temporal", "title": null},
          "y": {"field": "t", "type": "quantitative", "title": "Temperature (°C)"},
          "y2": {"datum": 20}
        }
      },
      {
        "transform": [{"filter": "datum.d != null"}],
        "mark": {"type": "line", "color": "#7F7F7F", "strokeWidth": 2.4, "invalid": "break-paths-filter-domains"},
        "encoding": {
          "x": {
            "field": "d", "type": "temporal", "title": null,
            "scale": {"type": "utc", "domain": [{"year": 2021, "month": 6, "date": 18, "utc": true}, {"year": 2023, "month": 7, "date": 4, "utc": true}], "nice": false},
            "axis": {
              "values": [
                {"year": 2021, "month": 10, "date": 1, "utc": true},
                {"year": 2022, "month": 2, "date": 1, "utc": true},
                {"year": 2022, "month": 6, "date": 1, "utc": true},
                {"year": 2022, "month": 10, "date": 1, "utc": true},
                {"year": 2023, "month": 2, "date": 1, "utc": true},
                {"year": 2023, "month": 6, "date": 1, "utc": true}
              ],
              "format": "%b", "labelPadding": 10, "labelFlush": false, "labelOverlap": false
            }
          },
          "y": {
            "field": "t", "type": "quantitative", "title": "Temperature (°C)",
            "scale": {"domain": [11.34, 23.65], "nice": false, "zero": false},
            "axis": {"values": [12, 14, 16, 18, 20, 22], "labelPadding": 6, "titlePadding": 13}
          }
        }
      },
      {
        "transform": [{"filter": "datum.m != null"}],
        "mark": {"type": "rule", "color": "#8B0000", "strokeWidth": 5},
        "encoding": {"y": {"datum": 20, "type": "quantitative", "title": "Temperature (°C)"}}
      },
      {
        "transform": [{"filter": "datum.m != null"}],
        "mark": {"type": "rule", "color": "#000080", "strokeWidth": 5, "strokeDash": [5, 18.3], "strokeCap": "butt"},
        "encoding": {"y": {"field": "m", "type": "quantitative", "title": "Temperature (°C)"}}
      },
      {
        "transform": [{"filter": "datum.m != null"}],
        "mark": {"type": "rect", "fill": "#D9D9D9", "stroke": "#333333", "strokeWidth": 1.6},
        "encoding": {
          "x": {"datum": {"year": 2021, "month": 6, "date": 18, "utc": true}, "title": null},
          "x2": {"datum": {"year": 2023, "month": 7, "date": 4, "utc": true}},
          "y": {"datum": 23.75, "type": "quantitative", "title": "Temperature (°C)"},
          "y2": {"datum": 24.95}
        }
      },
      {
        "transform": [{"filter": "datum.m != null"}],
        "mark": {"type": "text", "fontSize": 35, "fontWeight": "bold", "color": "#1A1A1A", "align": "center", "baseline": "alphabetic", "font": "Liberation Sans"},
        "encoding": {
          "x": {"datum": {"year": 2022, "month": 6, "date": 26, "utc": true}, "title": null},
          "y": {"datum": 24.14, "type": "quantitative", "title": "Temperature (°C)"},
          "text": {"field": "s", "type": "nominal"}
        }
      }
    ]
  },
  "config": {
    "font": "Liberation Sans",
    "view": {"stroke": "#333333", "strokeWidth": 1.6},
    "axis": {
      "grid": false, "domain": false,
      "tickColor": "#333333", "tickWidth": 2, "tickSize": 7,
      "labelFontSize": 23, "labelColor": "#4D4D4D", "labelFont": "Liberation Sans",
      "titleFont": "Liberation Sans", "titleFontWeight": "normal", "titleColor": "#000000", "titleFontSize": 37
    }
  }
}
